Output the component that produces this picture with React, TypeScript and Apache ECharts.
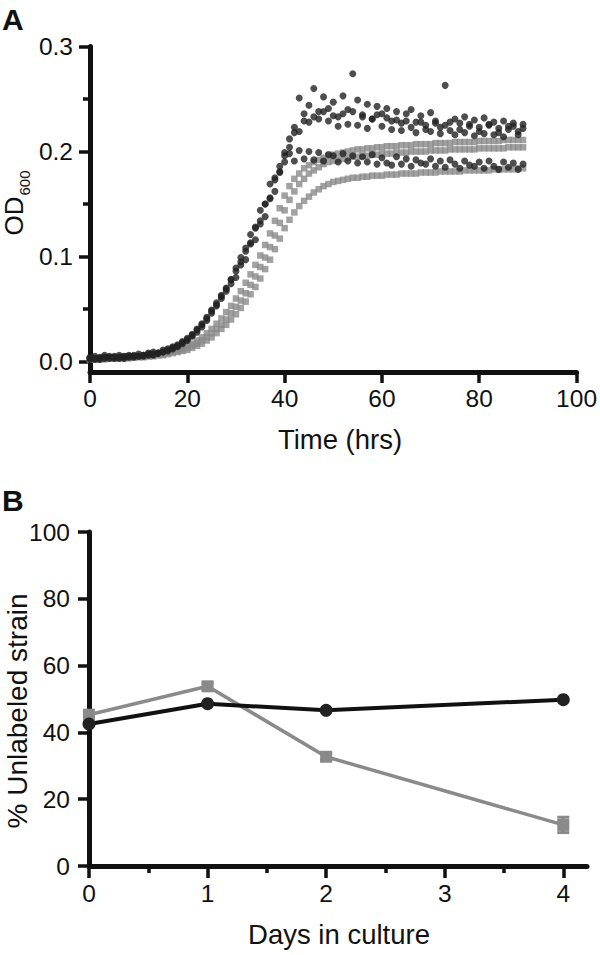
import React, { useEffect, useRef } from "react";
import * as echarts from "echarts";

// ---------- Panel A data (OD600 vs time) ----------
const hoursA = [
  0, 1, 2, 3, 4, 5, 6, 7, 8, 9,
  10, 11, 12, 13, 14, 15, 16, 17, 18, 19,
  20, 21, 22, 23, 24, 25, 26, 27, 28, 29,
  30, 31, 32, 33, 34, 35, 36, 37, 38, 39,
  40, 41, 42, 43, 44, 45, 46, 47, 48, 49,
  50, 51, 52, 53, 54, 55, 56, 57, 58, 59,
  60, 61, 62, 63, 64, 65, 66, 67, 68, 69,
  70, 71, 72, 73, 74, 75, 76, 77, 78, 79,
  80, 81, 82, 83, 84, 85, 86, 87, 88, 89,
];

// values in thousandths of OD600 units
const blackRep1 = [
  3, 2, 4, 3, 5, 4, 3, 5, 4, 6,
  5, 6, 7, 6, 8, 9, 10, 12, 14, 17,
  20, 24, 28, 33, 39, 46, 53, 60, 67, 74,
  80, 92, 97, 112, 116, 131, 138, 156, 162, 181,
  196, 212, 223, 251, 236, 244, 260, 238, 252, 241,
  247, 233, 253, 240, 274, 249, 235, 245, 231, 243,
  236, 241, 229, 238, 227, 236, 240, 228, 234, 225,
  237, 229, 223, 263, 228, 231, 221, 233, 226, 230,
  219, 232, 225, 228, 218, 229, 224, 227, 219, 226,
];
const blackRep2 = [
  4, 5, 3, 6, 4, 5, 6, 4, 6, 5,
  7, 6, 8, 9, 8, 11, 12, 14, 16, 19,
  22, 26, 31, 36, 42, 49, 56, 63, 70, 78,
  89, 95, 108, 113, 128, 134, 150, 155, 173, 180,
  199, 204, 218, 219, 229, 228, 233, 231, 238, 229,
  234, 224, 236, 226, 238, 225, 233, 222, 231, 235,
  224, 232, 221, 230, 220, 229, 223, 218, 228, 221,
  219, 227, 217, 225, 220, 216, 227, 218, 224, 215,
  223, 217, 226, 216, 222, 214, 221, 224, 216, 222,
];
const blackRep3 = [
  2, 3, 2, 4, 3, 3, 4, 3, 5, 4,
  5, 5, 6, 7, 8, 9, 11, 13, 15, 18,
  21, 25, 30, 35, 41, 48, 54, 62, 69, 78,
  86, 99, 105, 121, 127, 144, 150, 169, 175, 186,
  190, 198, 191, 201, 193, 200, 192, 199, 191, 197,
  196, 190, 198, 191, 196, 189, 195, 190, 197, 188,
  194, 189, 187, 195, 188, 193, 186, 192, 189, 188,
  193, 186, 191, 185, 192, 188, 184, 191, 187, 186,
  190, 184, 191, 186, 183, 190, 185, 189, 183, 188,
];
const grayRep1 = [
  3, 3, 3, 4, 4, 4, 4, 5, 5, 5,
  5, 6, 6, 7, 7, 8, 9, 10, 11, 13,
  15, 17, 20, 23, 27, 31, 36, 41, 47, 53,
  60, 67, 75, 83, 92, 101, 111, 122, 134, 146,
  158, 167, 174, 179, 184, 187, 190, 192, 194, 196,
  197, 198, 199, 200, 201, 202, 202, 203, 203, 204,
  204, 205, 205, 205, 206, 206, 206, 207, 207, 207,
  207, 208, 208, 208, 208, 209, 209, 209, 209, 209,
  210, 210, 210, 210, 210, 211, 211, 211, 211, 211,
];
const grayRep2 = [
  2, 2, 3, 3, 3, 3, 4, 4, 4, 4,
  5, 5, 5, 6, 6, 7, 8, 9, 10, 11,
  13, 15, 17, 20, 23, 27, 31, 35, 40, 46,
  52, 58, 65, 73, 81, 90, 99, 109, 120, 132,
  144, 154, 162, 169, 174, 179, 182, 185, 188, 190,
  191, 192, 193, 194, 195, 195, 196, 196, 197, 197,
  198, 198, 198, 199, 199, 199, 200, 200, 200, 200,
  201, 201, 201, 201, 202, 202, 202, 202, 202, 202,
  203, 203, 203, 203, 203, 203, 204, 204, 204, 204,
];
const grayRep3 = [
  2, 2, 2, 2, 3, 3, 3, 3, 3, 4,
  4, 4, 5, 5, 6, 6, 7, 8, 9, 10,
  11, 13, 15, 17, 20, 23, 27, 31, 35, 40,
  45, 51, 57, 64, 71, 79, 88, 97, 107, 117,
  127, 135, 142, 148, 153, 157, 161, 164, 167, 169,
  171, 172, 173, 174, 175, 175, 176, 176, 177, 177,
  177, 178, 178, 178, 179, 179, 179, 179, 180, 180,
  180, 180, 181, 181, 181, 181, 181, 182, 182, 182,
  182, 182, 182, 183, 183, 183, 183, 183, 184, 184,
];

const odTicks = [0, 0.1, 0.2, 0.3];
const odMinorTicks = [0.05, 0.15, 0.25];
const hourTicks = [0, 20, 40, 60, 80, 100];

// ---------- Panel B data (% unlabeled strain vs days) ----------
const days = [0, 1, 2, 4];
const unlabeledBlack = [42.5, 48.6, 46.6, 49.8];
const unlabeledGray = [45.3, 53.8, 32.7, 12.3];
const unlabeledGrayErr = [1.0, 1.0, 1.0, 2.3];
const dayTicks = [0, 1, 2, 3, 4];
const dayMinorTicks = [0.5, 1.5, 2.5, 3.5];
const pctTicks = [0, 20, 40, 60, 80, 100];

const FONT = "'Liberation Sans', Arial, Helvetica, sans-serif";
const INK = "#111111";
const GRAY = "#8a8a8a";
const DARK = "#222222";

export default function App() {
  const ref = useRef<HTMLDivElement>(null);

  useEffect(() => {
    document.body.style.margin = "0";
    if (!ref.current) return;
    const chart = echarts.init(ref.current, null, { renderer: "svg" });

    const toPts = (rep: number[]) => hoursA.map((h, i) => [h, rep[i] / 1000]);

    const axisLine = () => ({ show: true, onZero: false, lineStyle: { color: INK, width: 5 } });
    const labelStyle = { color: INK, fontSize: 24.5, fontFamily: FONT };
    const tickStyle = { color: INK, width: 3.5 };

    const option: any = {
      animation: false,
      backgroundColor: "#ffffff",
      grid: [
        { left: 90, top: 46.5, width: 493, height: 325.5, containLabel: false },
        { left: 89, top: 532, width: 498, height: 334, containLabel: false },
      ],
      xAxis: [
        {
          gridIndex: 0, type: "value", position: "bottom", min: 0, max: 100, interval: 20,
          axisLine: axisLine(), splitLine: { show: false },
          axisTick: { show: true, inside: false, length: 11, lineStyle: tickStyle, customValues: hourTicks },
          axisLabel: { ...labelStyle, margin: 14, customValues: hourTicks },
        },
        {
          gridIndex: 1, type: "value", position: "bottom", min: 0, max: 4.2,
          axisLine: axisLine(), splitLine: { show: false },
          axisTick: { show: true, length: 12, lineStyle: tickStyle, customValues: dayTicks },
          axisLabel: { ...labelStyle, margin: 15, customValues: dayTicks, formatter: (v: number) => String(v) },
        },
        {
          gridIndex: 1, type: "value", position: "bottom", min: 0, max: 4.2,
          axisLine: { show: false }, splitLine: { show: false },
          axisTick: { show: true, length: 7, lineStyle: tickStyle, customValues: dayMinorTicks },
          axisLabel: { show: false },
        },
      ],
      yAxis: [
        {
          gridIndex: 0, type: "value", position: "left", min: -0.01, max: 0.3,
          axisLine: axisLine(), splitLine: { show: false },
          axisTick: { show: true, length: 11, lineStyle: tickStyle, customValues: odTicks },
          axisLabel: { ...labelStyle, margin: 17, customValues: odTicks, formatter: (v: number) => v.toFixed(1) },
        },
        {
          gridIndex: 0, type: "value", position: "left", min: -0.01, max: 0.3,
          axisLine: { show: false }, splitLine: { show: false },
          axisTick: { show: true, length: 7, lineStyle: tickStyle, customValues: odMinorTicks },
          axisLabel: { show: false },
        },
        {
          gridIndex: 1, type: "value", position: "left", min: 0, max: 100, interval: 20,
          axisLine: axisLine(), splitLine: { show: false },
          axisTick: { show: true, length: 11, lineStyle: tickStyle, customValues: pctTicks },
          axisLabel: { ...labelStyle, margin: 19, customValues: pctTicks },
        },
      ],
      series: [
        ...[grayRep1, grayRep2, grayRep3].map((rep) => ({
          type: "scatter", xAxisIndex: 0, yAxisIndex: 0,
          symbol: "rect", symbolSize: 6.5,
          itemStyle: { color: GRAY }, data: toPts(rep), silent: true,
        })),
        ...[blackRep1, blackRep2, blackRep3].map((rep) => ({
          type: "scatter", xAxisIndex: 0, yAxisIndex: 0,
          symbol: "circle", symbolSize: 7,
          itemStyle: { color: DARK }, data: toPts(rep), silent: true,
        })),
        {
          type: "custom", xAxisIndex: 1, yAxisIndex: 2,
          data: days.map((d, i) => [d, unlabeledGray[i], unlabeledGrayErr[i]]),
          renderItem: (params: any, api: any) => {
            const x = api.value(0), y = api.value(1), e = api.value(2);
            const top = api.coord([x, y + e]);
            const bot = api.coord([x, y - e]);
            const st = { stroke: GRAY, lineWidth: 3 };
            return {
              type: "group",
              children: [
                { type: "line", shape: { x1: top[0], y1: top[1], x2: bot[0], y2: bot[1] }, style: st },
                { type: "line", shape: { x1: top[0] - 6, y1: top[1], x2: top[0] + 6, y2: top[1] }, style: st },
                { type: "line", shape: { x1: bot[0] - 6, y1: bot[1], x2: bot[0] + 6, y2: bot[1] }, style: st },
              ],
            };
          },
        },
        {
          type: "line", xAxisIndex: 1, yAxisIndex: 2,
          data: days.map((d, i) => [d, unlabeledGray[i]]),
          symbol: "rect", symbolSize: 12, showSymbol: true,
          lineStyle: { color: GRAY, width: 3.5 }, itemStyle: { color: GRAY },
        },
        {
          type: "line", xAxisIndex: 1, yAxisIndex: 2,
          data: days.map((d, i) => [d, unlabeledBlack[i]]),
          symbol: "circle", symbolSize: 13, showSymbol: true,
          lineStyle: { color: INK, width: 4 }, itemStyle: { color: DARK },
        },
      ],
      graphic: [
        { type: "text", left: 2, top: 4, style: { text: "A", fontSize: 30, fontWeight: "bold", fontFamily: FONT, fill: INK } },
        { type: "text", left: 2, top: 485, style: { text: "B", fontSize: 30, fontWeight: "bold", fontFamily: FONT, fill: INK } },
        { type: "text", x: 14, y: 216, rotation: Math.PI / 2, style: { text: "OD", fontSize: 26, fontFamily: FONT, fill: INK, align: "center", verticalAlign: "middle" } },
        { type: "text", x: 24, y: 183, rotation: Math.PI / 2, style: { text: "600", fontSize: 15, fontFamily: FONT, fill: INK, align: "center", verticalAlign: "middle" } },
        { type: "text", x: 340, y: 439, style: { text: "Time (hrs)", fontSize: 27.5, fontFamily: FONT, fill: INK, align: "center", verticalAlign: "middle" } },
        { type: "text", x: 339, y: 934, style: { text: "Days in culture", fontSize: 27.5, fontFamily: FONT, fill: INK, align: "center", verticalAlign: "middle" } },
        { type: "text", x: 17, y: 711, rotation: Math.PI / 2, style: { text: "% Unlabeled strain", fontSize: 28, fontFamily: FONT, fill: INK, align: "center", verticalAlign: "middle" } },
      ],
    };

    chart.setOption(option);
    return () => chart.dispose();
  }, []);

  return <div ref={ref} style={{ width: 600, height: 955 }} />;
}
